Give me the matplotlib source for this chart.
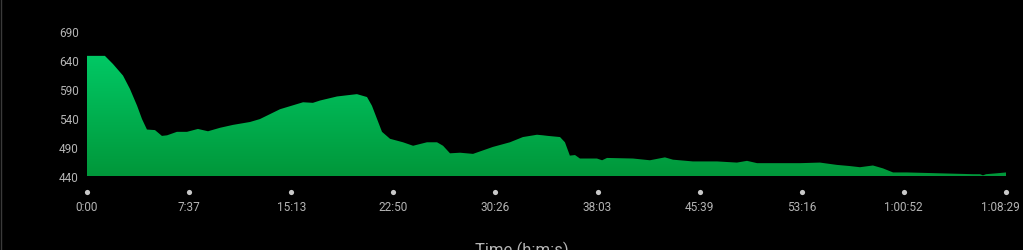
import numpy as np
import matplotlib
matplotlib.use("Agg")
from matplotlib import pyplot as plt
from matplotlib.colors import LinearSegmentedColormap
from matplotlib.lines import Line2D
from matplotlib.transforms import ScaledTranslation

# elapsed time (seconds) and value
time_s = [0, 80, 116, 161, 192, 224, 246, 268, 304, 335, 358, 402, 447, 496,
          541, 595, 653, 729, 773, 863, 966, 1010, 1042, 1118, 1162, 1207,
          1252, 1274, 1297, 1319, 1355, 1413, 1458, 1520, 1565, 1592, 1623,
          1668, 1726, 1815, 1891, 1949, 2012, 2039, 2061, 2115, 2137, 2159,
          2182, 2204, 2280, 2303, 2325, 2441, 2517, 2584, 2620, 2709, 2817,
          2906, 2951, 2996, 3188, 3277, 3353, 3411, 3456, 3514, 3559, 3604,
          3666, 3961, 3993, 4006, 4020, 4082, 4109]
values = [648, 648, 634, 614, 591, 562, 539, 521, 520, 510, 511, 517, 517, 522,
          518, 524, 529, 534, 539, 556, 568, 567, 571, 578, 580, 582,
          577, 562, 539, 517, 505, 499, 493, 499, 499, 493, 480,
          481, 479, 491, 499, 508, 512, 511, 510, 508, 499, 476,
          477, 471, 471, 468, 472, 471, 468, 473, 469, 466, 466,
          464, 467, 463, 463, 464, 460, 458, 456, 459, 454, 447,
          447, 444, 444, 442, 444, 446, 447]

y_ticks = [440, 490, 540, 590, 640, 690]
x_ticks = [0, 457, 913, 1370, 1826, 2283, 2739, 3196, 3652, 4109]
x_labels = ["0:00", "7:37", "15:13", "22:50", "30:26", "38:03",
            "45:39", "53:16", "1:00:52", "1:08:29"]

plt.rcParams['font.family'] = ['Roboto', 'DejaVu Sans']
label_color = '#b4b4b4'

fig = plt.figure(figsize=(10.23, 2.51), dpi=100, facecolor='black')
ax = fig.add_axes([87 / 1023, 1 - 177.5 / 251, 919 / 1023, 145 / 251])
ax.set_facecolor('black')

# filled area with vertical gradient
poly = ax.fill_between(time_s, values, 440, color='none', lw=0)
cmap = LinearSegmentedColormap.from_list('g', ['#00973a', '#00c965'])
grad = np.linspace(0, 1, 256).reshape(-1, 1)
im = ax.imshow(grad, cmap=cmap, aspect='auto', origin='lower',
               extent=[0, 4109, 440, 650], zorder=2)
path = poly.get_paths()[0]
im.set_clip_path(path, transform=ax.transData)

ax.set_xlim(0, 4109)
ax.set_ylim(440, 690)
for s in ax.spines.values():
    s.set_visible(False)

ax.set_yticks(y_ticks)
ax.tick_params(axis='y', length=0, pad=6, labelsize=8.5, labelcolor=label_color)
ax.set_xticks(x_ticks)
ax.set_xticklabels(x_labels)
ax.tick_params(axis='x', length=0, pad=17, labelsize=8.5, labelcolor=label_color)

# last time label is pulled in a little so it fits
last = ax.get_xticklabels()[-1]
last.set_transform(last.get_transform() + ScaledTranslation(-6 / 100, 0, fig.dpi_scale_trans))

# dots above the time labels
trans = ax.get_xaxis_transform()
ax.scatter(x_ticks, [-0.107] * len(x_ticks), s=14, color='#c8c8c8',
           transform=trans, clip_on=False, zorder=3, lw=0)

fig.text(522 / 1023, -0.016, 'Time (h:m:s)', ha='center', va='baseline',
         fontsize=12, color=label_color)

fig.add_artist(Line2D([0.0008, 0.0008], [0, 1], color='#3a3a3a', lw=1))

fig.savefig('out.png', dpi=100, facecolor='black')
